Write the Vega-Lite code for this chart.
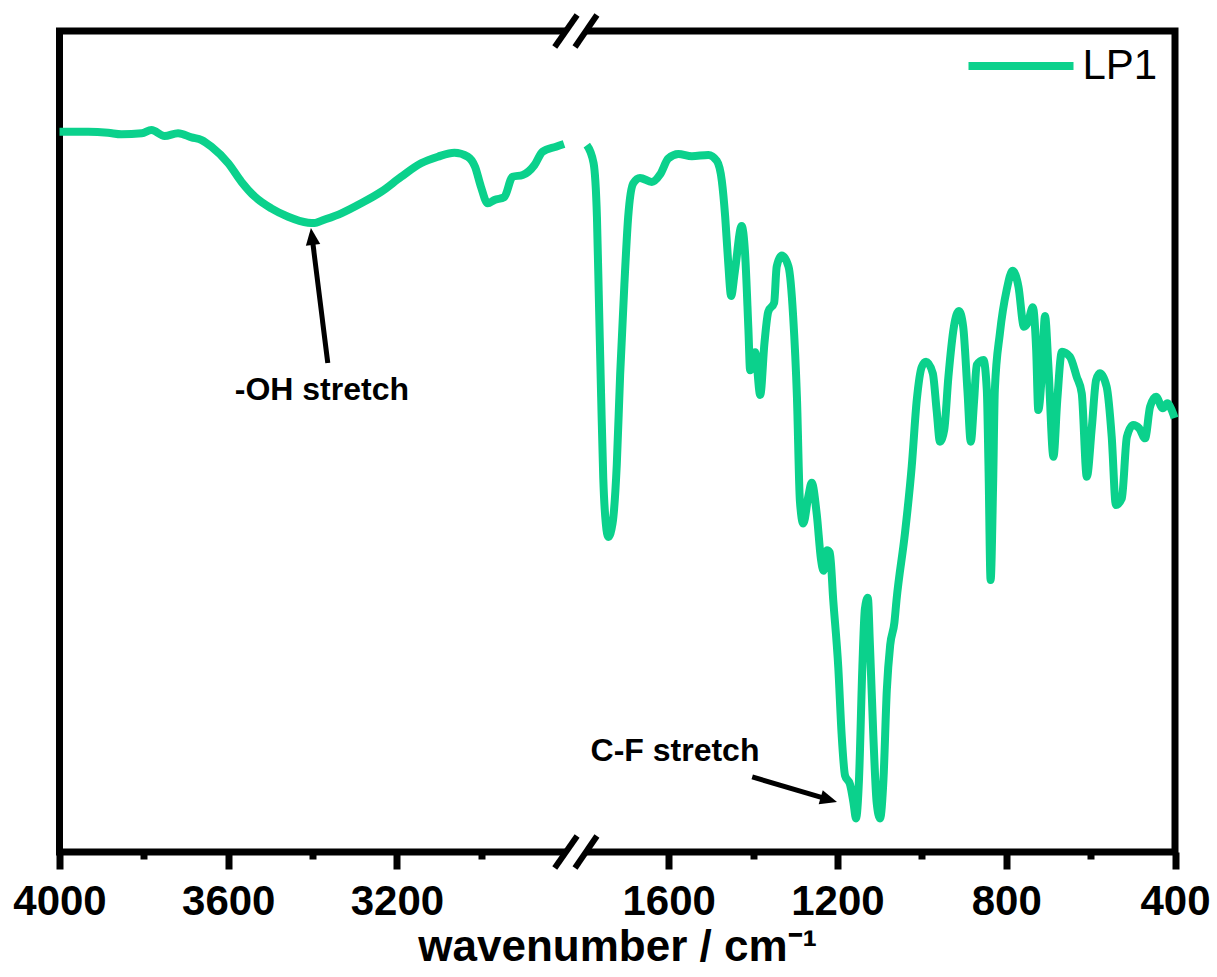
{
  "$schema": "https://vega.github.io/schema/vega-lite/v6.json",
  "width": 1115.5,
  "height": 821,
  "autosize": {"type": "none"},
  "padding": {"left": 59.5, "top": 31, "right": 42, "bottom": 125},
  "background": "white",
  "config": {"view": {"stroke": "black", "strokeWidth": 7}, "font": "Liberation Sans"},
  "datasets": {
    "spectrum": [
      {"w": 4000, "t": 87.73, "part": "A", "sample": "LP1"},
      {"w": 3932, "t": 87.73, "part": "A", "sample": "LP1"},
      {"w": 3885, "t": 87.61, "part": "A", "sample": "LP1"},
      {"w": 3853, "t": 87.42, "part": "A", "sample": "LP1"},
      {"w": 3805, "t": 87.54, "part": "A", "sample": "LP1"},
      {"w": 3782, "t": 87.94, "part": "A", "sample": "LP1"},
      {"w": 3751, "t": 87.21, "part": "A", "sample": "LP1"},
      {"w": 3719, "t": 87.54, "part": "A", "sample": "LP1"},
      {"w": 3687, "t": 87.05, "part": "A", "sample": "LP1"},
      {"w": 3663, "t": 86.72, "part": "A", "sample": "LP1"},
      {"w": 3640, "t": 85.91, "part": "A", "sample": "LP1"},
      {"w": 3600, "t": 83.89, "part": "A", "sample": "LP1"},
      {"w": 3569, "t": 81.65, "part": "A", "sample": "LP1"},
      {"w": 3537, "t": 79.82, "part": "A", "sample": "LP1"},
      {"w": 3498, "t": 78.40, "part": "A", "sample": "LP1"},
      {"w": 3458, "t": 77.38, "part": "A", "sample": "LP1"},
      {"w": 3411, "t": 76.65, "part": "A", "sample": "LP1"},
      {"w": 3395, "t": 76.60, "part": "A", "sample": "LP1"},
      {"w": 3379, "t": 76.89, "part": "A", "sample": "LP1"},
      {"w": 3332, "t": 77.79, "part": "A", "sample": "LP1"},
      {"w": 3285, "t": 79.01, "part": "A", "sample": "LP1"},
      {"w": 3237, "t": 80.43, "part": "A", "sample": "LP1"},
      {"w": 3190, "t": 82.25, "part": "A", "sample": "LP1"},
      {"w": 3143, "t": 83.89, "part": "A", "sample": "LP1"},
      {"w": 3103, "t": 84.69, "part": "A", "sample": "LP1"},
      {"w": 3064, "t": 85.18, "part": "A", "sample": "LP1"},
      {"w": 3032, "t": 84.69, "part": "A", "sample": "LP1"},
      {"w": 3015, "t": 83.47, "part": "A", "sample": "LP1"},
      {"w": 3001, "t": 81.04, "part": "A", "sample": "LP1"},
      {"w": 2985, "t": 79.01, "part": "A", "sample": "LP1"},
      {"w": 2969, "t": 79.42, "part": "A", "sample": "LP1"},
      {"w": 2946, "t": 79.74, "part": "A", "sample": "LP1"},
      {"w": 2926, "t": 82.25, "part": "A", "sample": "LP1"},
      {"w": 2902, "t": 82.46, "part": "A", "sample": "LP1"},
      {"w": 2874, "t": 83.68, "part": "A", "sample": "LP1"},
      {"w": 2855, "t": 85.30, "part": "A", "sample": "LP1"},
      {"w": 2823, "t": 85.91, "part": "A", "sample": "LP1"},
      {"w": 2804, "t": 86.24, "part": "A", "sample": "LP1"},
      {"w": 1794, "t": 86.11, "part": "B", "sample": "LP1"},
      {"w": 1778, "t": 83.92, "part": "B", "sample": "LP1"},
      {"w": 1770, "t": 77.33, "part": "B", "sample": "LP1"},
      {"w": 1765, "t": 66.36, "part": "B", "sample": "LP1"},
      {"w": 1760, "t": 55.38, "part": "B", "sample": "LP1"},
      {"w": 1755, "t": 45.52, "part": "B", "sample": "LP1"},
      {"w": 1749, "t": 40.02, "part": "B", "sample": "LP1"},
      {"w": 1743, "t": 38.38, "part": "B", "sample": "LP1"},
      {"w": 1733, "t": 40.02, "part": "B", "sample": "LP1"},
      {"w": 1723, "t": 47.16, "part": "B", "sample": "LP1"},
      {"w": 1715, "t": 58.14, "part": "B", "sample": "LP1"},
      {"w": 1705, "t": 69.11, "part": "B", "sample": "LP1"},
      {"w": 1696, "t": 77.33, "part": "B", "sample": "LP1"},
      {"w": 1684, "t": 81.45, "part": "B", "sample": "LP1"},
      {"w": 1668, "t": 82.11, "part": "B", "sample": "LP1"},
      {"w": 1640, "t": 81.62, "part": "B", "sample": "LP1"},
      {"w": 1620, "t": 82.55, "part": "B", "sample": "LP1"},
      {"w": 1601, "t": 84.47, "part": "B", "sample": "LP1"},
      {"w": 1577, "t": 85.02, "part": "B", "sample": "LP1"},
      {"w": 1545, "t": 84.74, "part": "B", "sample": "LP1"},
      {"w": 1506, "t": 84.91, "part": "B", "sample": "LP1"},
      {"w": 1486, "t": 84.19, "part": "B", "sample": "LP1"},
      {"w": 1474, "t": 81.73, "part": "B", "sample": "LP1"},
      {"w": 1466, "t": 77.33, "part": "B", "sample": "LP1"},
      {"w": 1459, "t": 71.85, "part": "B", "sample": "LP1"},
      {"w": 1452, "t": 67.73, "part": "B", "sample": "LP1"},
      {"w": 1443, "t": 70.76, "part": "B", "sample": "LP1"},
      {"w": 1427, "t": 76.24, "part": "B", "sample": "LP1"},
      {"w": 1419, "t": 72.95, "part": "B", "sample": "LP1"},
      {"w": 1411, "t": 63.62, "part": "B", "sample": "LP1"},
      {"w": 1407, "t": 58.68, "part": "B", "sample": "LP1"},
      {"w": 1395, "t": 60.88, "part": "B", "sample": "LP1"},
      {"w": 1383, "t": 55.66, "part": "B", "sample": "LP1"},
      {"w": 1373, "t": 61.97, "part": "B", "sample": "LP1"},
      {"w": 1364, "t": 65.81, "part": "B", "sample": "LP1"},
      {"w": 1350, "t": 66.91, "part": "B", "sample": "LP1"},
      {"w": 1344, "t": 71.30, "part": "B", "sample": "LP1"},
      {"w": 1332, "t": 72.67, "part": "B", "sample": "LP1"},
      {"w": 1316, "t": 71.30, "part": "B", "sample": "LP1"},
      {"w": 1305, "t": 65.26, "part": "B", "sample": "LP1"},
      {"w": 1296, "t": 55.38, "part": "B", "sample": "LP1"},
      {"w": 1289, "t": 42.77, "part": "B", "sample": "LP1"},
      {"w": 1281, "t": 40.02, "part": "B", "sample": "LP1"},
      {"w": 1269, "t": 43.31, "part": "B", "sample": "LP1"},
      {"w": 1261, "t": 44.97, "part": "B", "sample": "LP1"},
      {"w": 1249, "t": 41.12, "part": "B", "sample": "LP1"},
      {"w": 1239, "t": 35.64, "part": "B", "sample": "LP1"},
      {"w": 1233, "t": 34.26, "part": "B", "sample": "LP1"},
      {"w": 1225, "t": 36.74, "part": "B", "sample": "LP1"},
      {"w": 1218, "t": 36.46, "part": "B", "sample": "LP1"},
      {"w": 1210, "t": 30.69, "part": "B", "sample": "LP1"},
      {"w": 1198, "t": 22.47, "part": "B", "sample": "LP1"},
      {"w": 1190, "t": 14.24, "part": "B", "sample": "LP1"},
      {"w": 1182, "t": 9.31, "part": "B", "sample": "LP1"},
      {"w": 1170, "t": 8.21, "part": "B", "sample": "LP1"},
      {"w": 1162, "t": 6.00, "part": "B", "sample": "LP1"},
      {"w": 1156, "t": 4.09, "part": "B", "sample": "LP1"},
      {"w": 1149, "t": 8.76, "part": "B", "sample": "LP1"},
      {"w": 1141, "t": 22.47, "part": "B", "sample": "LP1"},
      {"w": 1135, "t": 29.60, "part": "B", "sample": "LP1"},
      {"w": 1128, "t": 30.97, "part": "B", "sample": "LP1"},
      {"w": 1123, "t": 25.21, "part": "B", "sample": "LP1"},
      {"w": 1115, "t": 14.24, "part": "B", "sample": "LP1"},
      {"w": 1107, "t": 6.00, "part": "B", "sample": "LP1"},
      {"w": 1099, "t": 4.09, "part": "B", "sample": "LP1"},
      {"w": 1091, "t": 8.76, "part": "B", "sample": "LP1"},
      {"w": 1083, "t": 19.73, "part": "B", "sample": "LP1"},
      {"w": 1075, "t": 25.21, "part": "B", "sample": "LP1"},
      {"w": 1065, "t": 27.95, "part": "B", "sample": "LP1"},
      {"w": 1060, "t": 30.69, "part": "B", "sample": "LP1"},
      {"w": 1040, "t": 38.82, "part": "B", "sample": "LP1"},
      {"w": 1024, "t": 46.93, "part": "B", "sample": "LP1"},
      {"w": 1012, "t": 55.06, "part": "B", "sample": "LP1"},
      {"w": 1000, "t": 59.11, "part": "B", "sample": "LP1"},
      {"w": 990, "t": 59.72, "part": "B", "sample": "LP1"},
      {"w": 974, "t": 58.31, "part": "B", "sample": "LP1"},
      {"w": 965, "t": 53.84, "part": "B", "sample": "LP1"},
      {"w": 957, "t": 49.98, "part": "B", "sample": "LP1"},
      {"w": 947, "t": 51.40, "part": "B", "sample": "LP1"},
      {"w": 937, "t": 57.89, "part": "B", "sample": "LP1"},
      {"w": 924, "t": 63.98, "part": "B", "sample": "LP1"},
      {"w": 912, "t": 65.90, "part": "B", "sample": "LP1"},
      {"w": 902, "t": 63.98, "part": "B", "sample": "LP1"},
      {"w": 892, "t": 56.27, "part": "B", "sample": "LP1"},
      {"w": 884, "t": 49.98, "part": "B", "sample": "LP1"},
      {"w": 876, "t": 55.06, "part": "B", "sample": "LP1"},
      {"w": 870, "t": 59.32, "part": "B", "sample": "LP1"},
      {"w": 854, "t": 59.93, "part": "B", "sample": "LP1"},
      {"w": 846, "t": 56.27, "part": "B", "sample": "LP1"},
      {"w": 842, "t": 46.93, "part": "B", "sample": "LP1"},
      {"w": 837, "t": 33.13, "part": "B", "sample": "LP1"},
      {"w": 831, "t": 44.91, "part": "B", "sample": "LP1"},
      {"w": 827, "t": 56.27, "part": "B", "sample": "LP1"},
      {"w": 815, "t": 63.18, "part": "B", "sample": "LP1"},
      {"w": 799, "t": 68.45, "part": "B", "sample": "LP1"},
      {"w": 785, "t": 70.80, "part": "B", "sample": "LP1"},
      {"w": 771, "t": 68.86, "part": "B", "sample": "LP1"},
      {"w": 758, "t": 63.98, "part": "B", "sample": "LP1"},
      {"w": 748, "t": 64.59, "part": "B", "sample": "LP1"},
      {"w": 737, "t": 66.35, "part": "B", "sample": "LP1"},
      {"w": 729, "t": 61.14, "part": "B", "sample": "LP1"},
      {"w": 724, "t": 53.84, "part": "B", "sample": "LP1"},
      {"w": 716, "t": 57.89, "part": "B", "sample": "LP1"},
      {"w": 708, "t": 65.29, "part": "B", "sample": "LP1"},
      {"w": 700, "t": 59.11, "part": "B", "sample": "LP1"},
      {"w": 688, "t": 48.15, "part": "B", "sample": "LP1"},
      {"w": 679, "t": 55.06, "part": "B", "sample": "LP1"},
      {"w": 668, "t": 60.94, "part": "B", "sample": "LP1"},
      {"w": 649, "t": 60.33, "part": "B", "sample": "LP1"},
      {"w": 633, "t": 57.89, "part": "B", "sample": "LP1"},
      {"w": 621, "t": 55.87, "part": "B", "sample": "LP1"},
      {"w": 609, "t": 45.71, "part": "B", "sample": "LP1"},
      {"w": 597, "t": 51.80, "part": "B", "sample": "LP1"},
      {"w": 587, "t": 57.49, "part": "B", "sample": "LP1"},
      {"w": 578, "t": 58.31, "part": "B", "sample": "LP1"},
      {"w": 562, "t": 56.67, "part": "B", "sample": "LP1"},
      {"w": 550, "t": 50.58, "part": "B", "sample": "LP1"},
      {"w": 540, "t": 42.27, "part": "B", "sample": "LP1"},
      {"w": 526, "t": 43.08, "part": "B", "sample": "LP1"},
      {"w": 514, "t": 50.58, "part": "B", "sample": "LP1"},
      {"w": 499, "t": 52.01, "part": "B", "sample": "LP1"},
      {"w": 485, "t": 51.61, "part": "B", "sample": "LP1"},
      {"w": 471, "t": 50.39, "part": "B", "sample": "LP1"},
      {"w": 459, "t": 54.24, "part": "B", "sample": "LP1"},
      {"w": 445, "t": 55.46, "part": "B", "sample": "LP1"},
      {"w": 429, "t": 54.04, "part": "B", "sample": "LP1"},
      {"w": 418, "t": 54.65, "part": "B", "sample": "LP1"},
      {"w": 408, "t": 53.84, "part": "B", "sample": "LP1"},
      {"w": 401, "t": 52.86, "part": "B", "sample": "LP1"}
    ],
    "notes": [
      {"label": "-OH stretch", "tx": 3378, "ty": 55.05, "ax": 3364, "ay": 59.56, "bx": 3401, "by": 74.8, "hx": 3404, "hy": 76.0},
      {"label": "C-F stretch", "tx": 1585, "ty": 11.08, "ax": 1402, "ay": 9.14, "bx": 1224, "by": 6.43, "hx": 1201, "hy": 6.09}
    ],
    "gaps": [
      {"x1": 2800, "x2": 1796, "y1": 100.7, "y2": 99.3},
      {"x1": 2800, "x2": 1796, "y1": 0.7, "y2": -0.7}
    ],
    "slashes": [
      {"x1": 2826, "y1": 98.05, "x2": 1817, "y2": 101.95},
      {"x1": 2778, "y1": 98.05, "x2": 1770, "y2": 101.95},
      {"x1": 2826, "y1": -1.95, "x2": 1817, "y2": 1.95},
      {"x1": 2778, "y1": -1.95, "x2": 1770, "y2": 1.95}
    ]
  },
  "layer": [
    {
      "data": {"name": "spectrum"},
      "mark": {"type": "line", "strokeWidth": 8, "strokeJoin": "round", "strokeCap": "butt", "interpolate": "monotone"},
      "encoding": {
        "x": {
          "field": "w", "type": "quantitative",
          "scale": {"domain": [4000, 2778, 1822, 400], "range": [0, 515.5, 515.5, 1115.5], "nice": false, "zero": false},
          "axis": {
            "values": [4000, 3800, 3600, 3400, 3200, 3000, 1600, 1400, 1200, 1000, 800, 600, 400],
            "format": "d",
            "domain": false, "grid": false, "ticks": true,
            "tickColor": "black", "tickWidth": 7,
            "tickSize": {"condition": {"test": "datum.value % 400 == 0", "value": 17}, "value": 7},
            "labelExpr": "datum.value % 400 == 0 ? datum.label : ''",
            "labelFont": "Liberation Sans", "labelFontSize": 42, "labelFontWeight": "bold", "labelColor": "black",
            "labelPadding": 12, "labelOverlap": false, "labelFlush": false, "labelBound": false,
            "title": "wavenumber / cm⁻¹",
            "titleFont": "Liberation Sans", "titleFontSize": 44, "titleFontWeight": "bold", "titleColor": "black",
            "titlePadding": 3
          }
        },
        "y": {"field": "t", "type": "quantitative", "scale": {"domain": [0, 100], "nice": false, "zero": false}, "axis": null},
        "color": {
          "field": "sample", "type": "nominal",
          "scale": {"range": ["#0BD18C"]},
          "legend": {
            "orient": "none", "legendX": 905, "legendY": -21.5,
            "title": null, "symbolType": "stroke", "symbolSize": 11025, "symbolStrokeWidth": 8,
            "labelFont": "Liberation Sans", "labelFontSize": 42, "labelColor": "black", "labelOffset": 5, "padding": 0
          }
        },
        "detail": {"field": "part", "type": "nominal"},
        "order": {"field": "w", "type": "quantitative", "sort": "descending"}
      }
    },
    {
      "data": {"name": "notes"},
      "mark": {"type": "rule", "strokeWidth": 5, "color": "black"},
      "encoding": {
        "x": {"field": "ax", "type": "quantitative"},
        "y": {"field": "ay", "type": "quantitative", "axis": null},
        "x2": {"field": "bx"},
        "y2": {"field": "by"}
      }
    },
    {
      "data": {"name": "notes"},
      "transform": [{"filter": "datum.label == '-OH stretch'"}],
      "mark": {"type": "point", "shape": "M0,0L-0.85,2L0.85,2Z", "size": 289, "filled": true, "color": "black", "opacity": 1, "strokeWidth": 0, "angle": 352.8},
      "encoding": {
        "x": {"field": "hx", "type": "quantitative"},
        "y": {"field": "hy", "type": "quantitative", "axis": null}
      }
    },
    {
      "data": {"name": "notes"},
      "transform": [{"filter": "datum.label == 'C-F stretch'"}],
      "mark": {"type": "point", "shape": "M0,0L-0.85,2L0.85,2Z", "size": 289, "filled": true, "color": "black", "opacity": 1, "strokeWidth": 0, "angle": 106.4},
      "encoding": {
        "x": {"field": "hx", "type": "quantitative"},
        "y": {"field": "hy", "type": "quantitative", "axis": null}
      }
    },
    {
      "data": {"name": "notes"},
      "mark": {"type": "text", "font": "Liberation Sans", "fontSize": 32, "fontWeight": "bold", "color": "black", "align": "center", "baseline": "alphabetic"},
      "encoding": {
        "x": {"field": "tx", "type": "quantitative"},
        "y": {"field": "ty", "type": "quantitative", "axis": null},
        "text": {"field": "label"}
      }
    },
    {
      "data": {"name": "gaps"},
      "mark": {"type": "rect", "color": "white", "opacity": 1},
      "encoding": {
        "x": {"field": "x1", "type": "quantitative"},
        "x2": {"field": "x2"},
        "y": {"field": "y1", "type": "quantitative", "axis": null},
        "y2": {"field": "y2"}
      }
    },
    {
      "data": {"name": "slashes"},
      "mark": {"type": "rule", "strokeWidth": 6, "color": "black"},
      "encoding": {
        "x": {"field": "x1", "type": "quantitative"},
        "x2": {"field": "x2"},
        "y": {"field": "y1", "type": "quantitative", "axis": null},
        "y2": {"field": "y2"}
      }
    }
  ]
}
